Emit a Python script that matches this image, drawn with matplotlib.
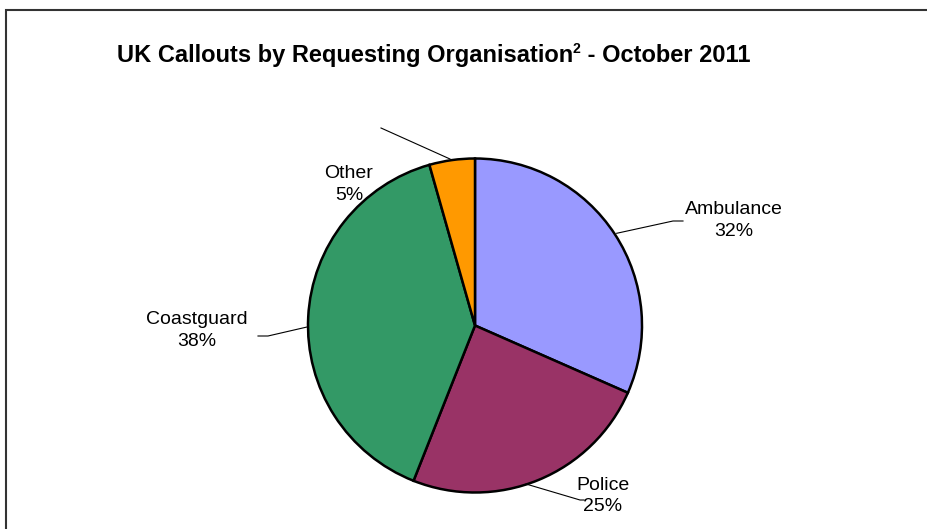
import matplotlib
matplotlib.use("Agg")
import matplotlib.pyplot as plt
from matplotlib.patches import Rectangle

categories = ["Ambulance", "Police", "Coastguard", "Other"]
values = [31.6, 24.4, 39.6, 4.4]
pct_labels = ["32%", "25%", "38%", "5%"]
colors = ["#9999FF", "#993366", "#339966", "#FF9900"]
title_main = "UK Callouts by Requesting Organisation"
title_sup = "2"
title_tail = " - October 2011"

W, H = 928, 529
fig = plt.figure(figsize=(W / 100, H / 100), dpi=100)
ax = fig.add_axes([0, 0, 1, 1])

cx, cy, r = 475, H - 325.5, 167
ax.pie(values, colors=colors, startangle=90, counterclock=False,
       center=(cx, cy), radius=r,
       wedgeprops=dict(edgecolor="black", linewidth=1.8))
ax.set_xlim(0, W)
ax.set_ylim(0, H)
ax.set_aspect("equal")
ax.axis("off")

# frame
ax.add_patch(Rectangle((6.5, -20), 1000, H - 9.5 + 20, fill=False,
                       edgecolor="#333333", linewidth=1.5, clip_on=False))

font = "Liberation Sans"

# title with superscript, built from pieces
renderer = fig.canvas.get_renderer()
tsize = 17
parts = [(title_main, tsize, 0), (title_sup, tsize * 0.6, 9), (title_tail, tsize, 0)]
texts = []
widths = []
for s, fs, dy in parts:
    t = ax.text(0, 0, s, fontsize=fs, fontweight="bold", family=font,
                ha="left", va="baseline")
    bb = t.get_window_extent(renderer)
    widths.append(bb.width)
    texts.append((t, dy))
total = sum(widths)
x0 = 433.5 - total / 2
base_y = H - 62
for (t, dy), w in zip(texts, widths):
    t.set_position((x0, base_y + dy))
    x0 += w

# label positions (pixel coords, y from top) and leader lines
label_pos = {
    "Ambulance": (734, 220.5),
    "Police": (603, 496),
    "Coastguard": (197, 330.5),
    "Other": (349, 184.5),
}
leaders = {
    "Ambulance": [(616.7, 233.3), (673, 221), (683, 221)],
    "Police": [(526, 484), (580, 500), (584, 500)],
    "Coastguard": [(307, 327), (268, 336), (258, 336)],
    "Other": [(450, 159), (381, 128)],
}
for cat, pct in zip(categories, pct_labels):
    x, y = label_pos[cat]
    ax.text(x, H - y, f"{cat}\n{pct}", ha="center", va="center",
            fontsize=14, family=font, linespacing=1.38)
    pts = leaders[cat]
    ax.plot([p[0] for p in pts], [H - p[1] for p in pts], color="black",
            linewidth=0.8)

fig.savefig("out.png", dpi=100)
